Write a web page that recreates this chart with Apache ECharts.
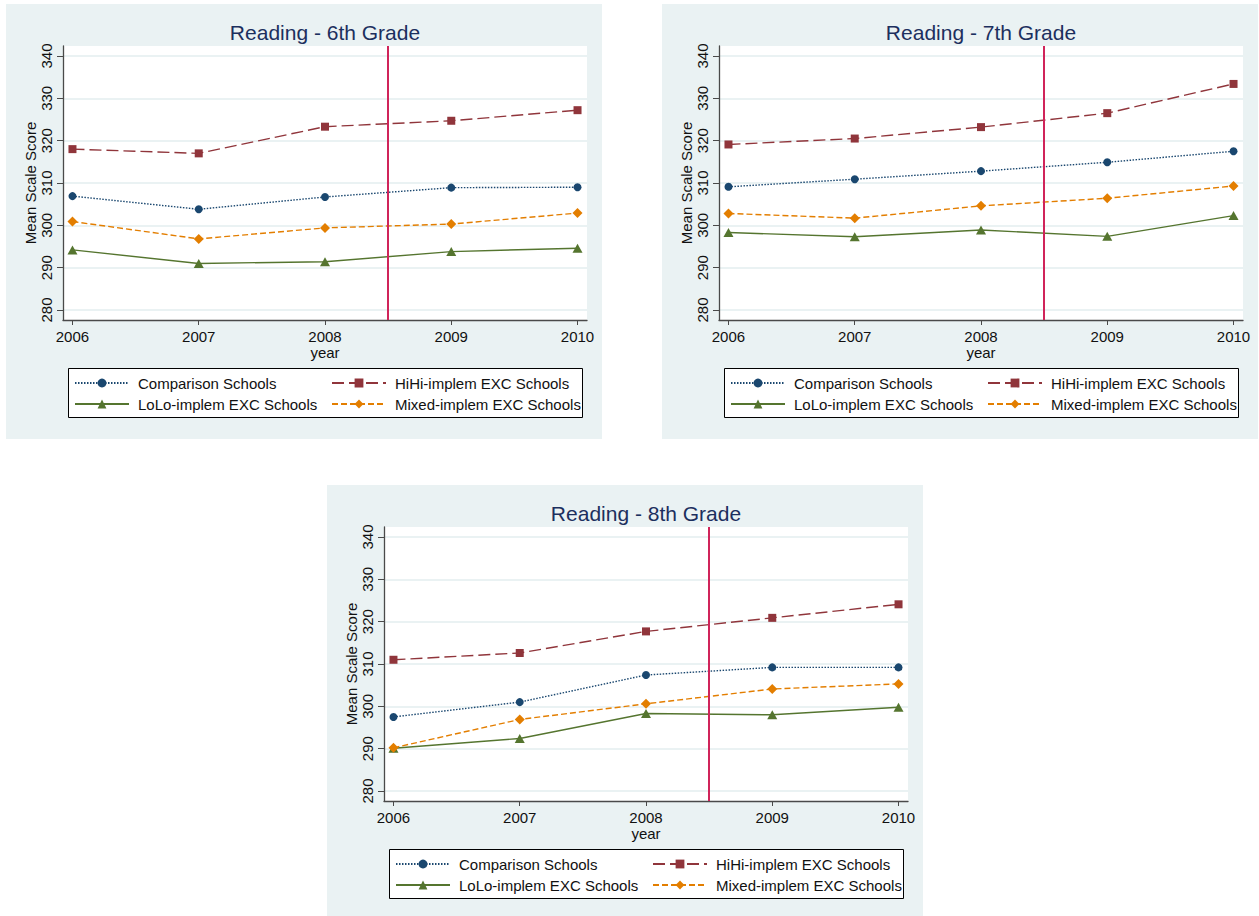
<!DOCTYPE html>
<html>
<head>
<meta charset="utf-8">
<title>Reading Mean Scale Scores by Grade</title>
<script src="https://cdn.jsdelivr.net/npm/echarts@6/dist/echarts.min.js"></script>
<style>
  html, body { margin: 0; padding: 0; background: #ffffff; }
  #chart { width: 1259px; height: 916px; }
</style>
</head>
<body>
<div id="chart"></div>
<script>
// ---- data ----
const years = [2006, 2007, 2008, 2009, 2010];
const yTicks = [280, 290, 300, 310, 320, 330, 340];
const interventionYear = 2008.5;

const seriesNames = [
  'Comparison Schools',
  'HiHi-implem EXC Schools',
  'LoLo-implem EXC Schools',
  'Mixed-implem EXC Schools'
];
const panelTitles = ['Reading - 6th Grade', 'Reading - 7th Grade', 'Reading - 8th Grade'];

// 6th grade
const g6Comparison = [306.9, 303.8, 306.7, 308.9, 309.0];
const g6HiHi       = [318.0, 317.0, 323.3, 324.7, 327.2];
const g6LoLo       = [294.2, 291.0, 291.4, 293.8, 294.6];
const g6Mixed      = [300.9, 296.8, 299.4, 300.3, 302.9];

// 7th grade
const g7Comparison = [309.1, 310.9, 312.8, 314.9, 317.5];
const g7HiHi       = [319.1, 320.5, 323.2, 326.5, 333.4];
const g7LoLo       = [298.3, 297.3, 298.9, 297.4, 302.3];
const g7Mixed      = [302.8, 301.7, 304.6, 306.4, 309.3];

// 8th grade
const g8Comparison = [297.5, 301.0, 307.4, 309.2, 309.2];
const g8HiHi       = [311.0, 312.6, 317.7, 320.9, 324.1];
const g8LoLo       = [290.1, 292.4, 298.3, 298.0, 299.8];
const g8Mixed      = [290.2, 296.9, 300.6, 304.1, 305.3];

const panelValues = [
  [g6Comparison, g6HiHi, g6LoLo, g6Mixed],
  [g7Comparison, g7HiHi, g7LoLo, g7Mixed],
  [g8Comparison, g8HiHi, g8LoLo, g8Mixed]
];

// ---- styling ----
const FONT = "'Liberation Sans', Arial, sans-serif";
const PANEL_BG = '#eaf2f3';
const TEXT = '#111111';
const TITLE_COLOR = '#1c2f5e';
const AXIS_COLOR = '#4a4a4a';

const seriesStyles = [
  { color: '#1a476f', symbol: 'circle',   size: 8,       dash: [1.5, 1.5] },
  { color: '#90353b', symbol: 'rect',     size: 8,       dash: [12, 5] },
  { color: '#55752f', symbol: 'triangle', size: [10, 9], dash: 'solid' },
  { color: '#e37e00', symbol: 'diamond',  size: 10,      dash: [6, 3] }
];

// panel offsets (top-left corners of each panel)
const panelOffsets = [[0, 0], [656, 0], [321, 481]];

const grids = [], xAxes = [], yAxes = [], series = [], legends = [], graphics = [];

panelOffsets.forEach(([ox, oy], p) => {
  // panel background
  graphics.push({
    type: 'rect', z: -10, silent: true,
    shape: { x: ox + 6, y: oy + 4, width: 596, height: 435 },
    style: { fill: PANEL_BG }
  });
  // panel title
  graphics.push({
    type: 'text', z: 10, silent: true,
    x: ox + 325, y: oy + 32,
    style: {
      text: panelTitles[p], fill: TITLE_COLOR,
      font: "21px " + FONT, textAlign: 'center', textVerticalAlign: 'middle'
    }
  });
  // legend frame
  graphics.push({
    type: 'rect', z: 1, silent: true,
    shape: { x: ox + 68.5, y: oy + 368.5, width: 514, height: 49 },
    style: { fill: '#ffffff', stroke: '#000000', lineWidth: 1 }
  });

  grids.push({
    left: ox + 63, top: oy + 46, width: 524, height: 274,
    show: true, backgroundColor: '#ffffff', borderWidth: 0
  });

  xAxes.push({
    type: 'value', gridIndex: p,
    min: 2005.925, max: 2010.075,
    name: 'year', nameLocation: 'middle', nameGap: 22,
    nameTextStyle: { fontFamily: FONT, fontSize: 15, color: TEXT },
    axisLine: { show: true, onZero: false, lineStyle: { color: AXIS_COLOR, width: 1.3 } },
    axisTick: { show: true, length: 5, customValues: years, lineStyle: { color: AXIS_COLOR } },
    axisLabel: {
      customValues: years, margin: 9, fontFamily: FONT, fontSize: 15, color: TEXT,
      formatter: v => String(v)
    },
    splitLine: { show: false }
  });

  yAxes.push({
    type: 'value', gridIndex: p,
    min: 277.64, max: 342.36,
    name: 'Mean Scale Score', nameLocation: 'middle', nameRotate: 90, nameGap: 25,
    nameTextStyle: { fontFamily: FONT, fontSize: 15, color: TEXT },
    axisLine: { show: true, onZero: false, lineStyle: { color: AXIS_COLOR, width: 1.3 } },
    axisTick: { show: true, length: 6, customValues: yTicks, lineStyle: { color: AXIS_COLOR } },
    axisLabel: {
      customValues: yTicks, rotate: 90, margin: 9,
      fontFamily: FONT, fontSize: 15, color: TEXT
    },
    splitLine: { show: true, lineStyle: { color: PANEL_BG, width: 2 } }
  });

  seriesNames.forEach((name, s) => {
    const st = seriesStyles[s];
    const entry = {
      type: 'line', name: name,
      xAxisIndex: p, yAxisIndex: p,
      data: years.map((yr, i) => [yr, panelValues[p][s][i]]),
      symbol: st.symbol, symbolSize: st.size,
      showSymbol: true,
      lineStyle: { color: st.color, width: 1.4, type: st.dash },
      itemStyle: { color: st.color },
      emphasis: { disabled: true },
      z: 3
    };
    if (s === 0) {
      entry.markLine = {
        silent: true, symbol: ['none', 'none'],
        label: { show: false },
        lineStyle: { color: '#d0245a', width: 2, type: 'solid' },
        data: [{ xAxis: interventionYear }],
        z: 4
      };
    }
    series.push(entry);
  });

  const legendBase = {
    orient: 'vertical', top: oy + 375.5, padding: 0,
    itemWidth: 54, itemHeight: 11, itemGap: 6,
    selectedMode: false,
    textStyle: { fontFamily: FONT, fontSize: 15, color: TEXT, lineHeight: 15, padding: [0, 0, 0, 4] },
    z: 5
  };
  legends.push(Object.assign({}, legendBase, { left: ox + 74, data: [seriesNames[0], seriesNames[2]] }));
  legends.push(Object.assign({}, legendBase, { left: ox + 331, data: [seriesNames[1], seriesNames[3]] }));
});

const chart = echarts.init(document.getElementById('chart'), null, { renderer: 'svg' });
chart.setOption({
  animation: false,
  backgroundColor: '#ffffff',
  grid: grids,
  xAxis: xAxes,
  yAxis: yAxes,
  legend: legends,
  graphic: { elements: graphics },
  series: series
});
</script>
</body>
</html>
